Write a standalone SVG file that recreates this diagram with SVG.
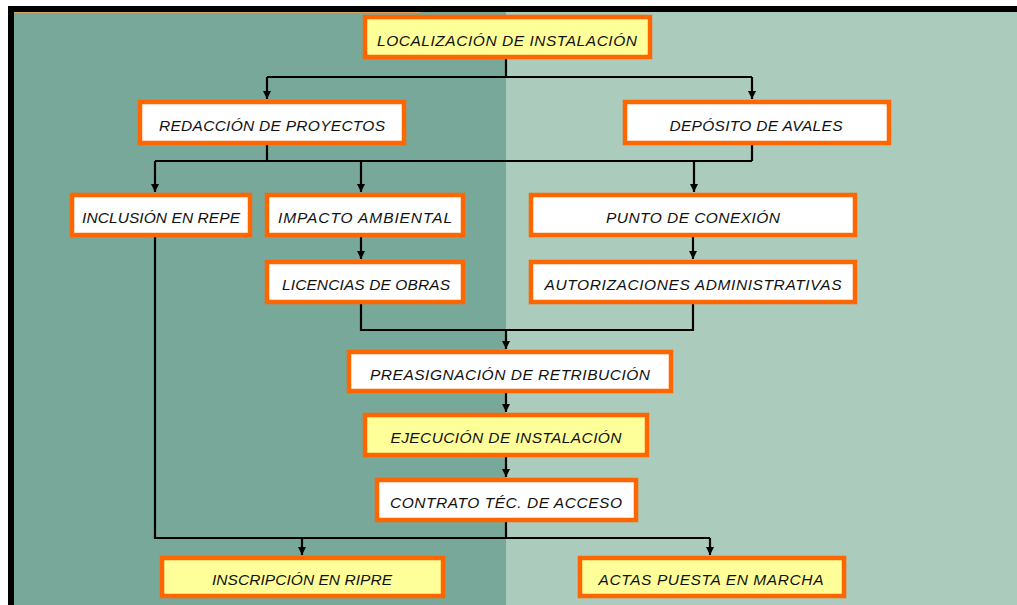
<svg xmlns="http://www.w3.org/2000/svg" width="1017" height="605" viewBox="0 0 1017 605">
<defs>
<style>
.box{stroke:#ff6600;stroke-width:4.5}
.w{fill:#ffffff}
.y{fill:#ffff99}
.t{font-family:"Liberation Sans","DejaVu Sans",sans-serif;font-style:italic;font-size:15.5px;fill:#111111;text-anchor:middle}
.c{fill:none;stroke:#000;stroke-width:2.2;stroke-linejoin:miter}
</style>
<marker id="ah" viewBox="0 0 10 10" refX="10" refY="5" markerWidth="8" markerHeight="8" markerUnits="userSpaceOnUse" orient="auto">
<path d="M0,0 L10,5 L0,10 z" fill="#000"/>
</marker>
</defs>
<rect x="0" y="0" width="1017" height="605" fill="#ffffff"/>
<rect x="14" y="12" width="492" height="593" fill="#78a89a"/>
<rect x="506" y="12" width="511" height="593" fill="#abcbbd"/>
<rect x="8" y="6" width="1009" height="6" fill="#000"/>
<rect x="8" y="6" width="6" height="599" fill="#000"/>
<line x1="14" y1="12.5" x2="420" y2="12.5" stroke="#d9a060" stroke-width="1"/>
<g id="connectors">
<path class="c" d="M506,59 V77"/>
<path class="c" d="M267,77 H752"/>
<path class="c" d="M267,77 V99" marker-end="url(#ah)"/>
<path class="c" d="M752,77 V99" marker-end="url(#ah)"/>
<path class="c" d="M267,145 V161"/>
<path class="c" d="M752,145 V161"/>
<path class="c" d="M155,161 H752"/>
<path class="c" d="M155,161 V192" marker-end="url(#ah)"/>
<path class="c" d="M361,161 V192" marker-end="url(#ah)"/>
<path class="c" d="M694,161 V192" marker-end="url(#ah)"/>
<path class="c" d="M361,237 V259" marker-end="url(#ah)"/>
<path class="c" d="M693,237 V259" marker-end="url(#ah)"/>
<path class="c" d="M361,304 V330 H693 V304"/>
<path class="c" d="M506,330 V349" marker-end="url(#ah)"/>
<path class="c" d="M506,393 V412" marker-end="url(#ah)"/>
<path class="c" d="M506,457 V477" marker-end="url(#ah)"/>
<path class="c" d="M155,237 V538 H710"/>
<path class="c" d="M506,522 V538"/>
<path class="c" d="M302,538 V555" marker-end="url(#ah)"/>
<path class="c" d="M710,538 V555" marker-end="url(#ah)"/>
</g>
<g id="n-localizacion"><rect class="box y" x="365" y="17" width="285" height="40"/><text class="t" x="507" y="46" textLength="260" lengthAdjust="spacing">LOCALIZACIÓN DE INSTALACIÓN</text></g>
<g id="n-redaccion"><rect class="box w" x="140" y="102" width="264" height="41"/><text class="t" x="272" y="131" textLength="226" lengthAdjust="spacing">REDACCIÓN DE PROYECTOS</text></g>
<g id="n-deposito"><rect class="box w" x="625" y="102" width="264" height="41"/><text class="t" x="756" y="131" textLength="173" lengthAdjust="spacing">DEPÓSITO DE AVALES</text></g>
<g id="n-inclusion"><rect class="box w" x="72" y="195" width="178" height="40"/><text class="t" x="161" y="223" textLength="158" lengthAdjust="spacing">INCLUSIÓN EN REPE</text></g>
<g id="n-impacto"><rect class="box w" x="267" y="195" width="196" height="40"/><text class="t" x="365" y="223" textLength="174" lengthAdjust="spacing">IMPACTO AMBIENTAL</text></g>
<g id="n-licencias"><rect class="box w" x="267" y="262" width="196" height="40"/><text class="t" x="366" y="290" textLength="168" lengthAdjust="spacing">LICENCIAS DE OBRAS</text></g>
<g id="n-punto"><rect class="box w" x="531" y="195" width="324" height="40"/><text class="t" x="693" y="223" textLength="174" lengthAdjust="spacing">PUNTO DE CONEXIÓN</text></g>
<g id="n-autorizaciones"><rect class="box w" x="531" y="262" width="324" height="40"/><text class="t" x="693" y="290" textLength="297" lengthAdjust="spacing">AUTORIZACIONES ADMINISTRATIVAS</text></g>
<g id="n-preasignacion"><rect class="box w" x="349" y="352" width="322" height="39"/><text class="t" x="510" y="380" textLength="280" lengthAdjust="spacing">PREASIGNACIÓN DE RETRIBUCIÓN</text></g>
<g id="n-ejecucion"><rect class="box y" x="365" y="415" width="282" height="40"/><text class="t" x="506" y="443" textLength="231" lengthAdjust="spacing">EJECUCIÓN DE INSTALACIÓN</text></g>
<g id="n-contrato"><rect class="box w" x="377" y="480" width="259" height="40"/><text class="t" x="506" y="508" textLength="232" lengthAdjust="spacing">CONTRATO TÉC. DE ACCESO</text></g>
<g id="n-inscripcion"><rect class="box y" x="162" y="558" width="281" height="38"/><text class="t" x="302" y="585" textLength="180" lengthAdjust="spacing">INSCRIPCIÓN EN RIPRE</text></g>
<g id="n-actas"><rect class="box y" x="580" y="558" width="264" height="38"/><text class="t" x="711" y="585" textLength="225" lengthAdjust="spacing">ACTAS PUESTA EN MARCHA</text></g>
</svg>
